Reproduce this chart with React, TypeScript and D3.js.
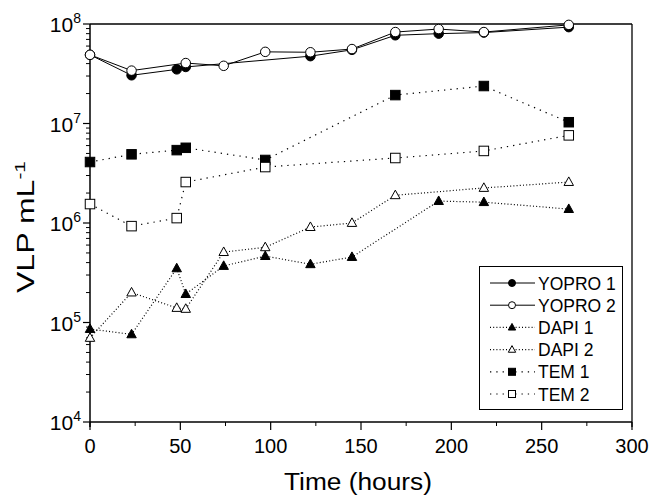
import { useEffect, useRef } from 'react';
import * as d3 from 'd3';

// [hours, VLP per mL]
const yopro1 = [[0, 4.9e7], [23, 3.05e7], [48, 3.5e7], [53, 3.7e7], [122, 4.75e7], [145, 5.5e7], [169, 7.7e7], [193, 8.0e7], [218, 8.2e7], [265, 9.3e7]];
const yopro2 = [[0, 4.9e7], [23, 3.4e7], [53, 4.05e7], [74, 3.8e7], [97, 5.25e7], [122, 5.2e7], [145, 5.6e7], [169, 8.3e7], [193, 8.9e7], [218, 8.3e7], [265, 9.8e7]];
const dapi1 = [[0, 8.6e4], [23, 7.6e4], [48, 3.5e5], [53, 1.93e5], [74, 3.7e5], [97, 4.65e5], [122, 3.85e5], [145, 4.55e5], [193, 1.66e6], [218, 1.62e6], [265, 1.38e6]];
const dapi2 = [[0, 7.0e4], [23, 2.0e5], [48, 1.4e5], [53, 1.37e5], [74, 5.1e5], [97, 5.7e5], [122, 9.1e5], [145, 1.0e6], [169, 1.9e6], [218, 2.25e6], [265, 2.58e6]];
const tem1 = [[0, 4.1e6], [23, 4.9e6], [48, 5.4e6], [53, 5.7e6], [97, 4.3e6], [169, 1.93e7], [218, 2.38e7], [265, 1.03e7]];
const tem2 = [[0, 1.55e6], [23, 9.3e5], [48, 1.12e6], [53, 2.58e6], [97, 3.65e6], [169, 4.5e6], [218, 5.3e6], [265, 7.6e6]];

const xTicks = [0, 50, 100, 150, 200, 250, 300];
const yExponents = [4, 5, 6, 7, 8];

const series = [
  { name: 'YOPRO 1', data: yopro1, shape: 'circle', filled: true, dash: null },
  { name: 'YOPRO 2', data: yopro2, shape: 'circle', filled: false, dash: null },
  { name: 'DAPI 1', data: dapi1, shape: 'triangle', filled: true, dash: '1,2.2' },
  { name: 'DAPI 2', data: dapi2, shape: 'triangle', filled: false, dash: '1,2.2' },
  { name: 'TEM 1', data: tem1, shape: 'square', filled: true, dash: '1.3,5' },
  { name: 'TEM 2', data: tem2, shape: 'square', filled: false, dash: '1.3,5' },
];

const FONT = '"Liberation Sans", Arial, Helvetica, sans-serif';

function drawMarker(g, shape, filled, cx, cy, size) {
  const fill = filled ? '#000' : '#fff';
  if (shape === 'circle') {
    g.append('circle').attr('cx', cx).attr('cy', cy).attr('r', size / 2)
      .attr('fill', fill).attr('stroke', '#000').attr('stroke-width', 1);
  } else if (shape === 'square') {
    g.append('rect').attr('x', cx - size / 2).attr('y', cy - size / 2)
      .attr('width', size).attr('height', size)
      .attr('fill', fill).attr('stroke', '#000').attr('stroke-width', 1);
  } else {
    const h = size * 0.95;
    const w = size * 1.05;
    const pts = [[cx, cy - h * 0.6], [cx + w / 2, cy + h * 0.4], [cx - w / 2, cy + h * 0.4]];
    g.append('polygon').attr('points', pts.map(p => p.join(',')).join(' '))
      .attr('fill', fill).attr('stroke', '#000').attr('stroke-width', 1);
  }
}

export default function App() {
  const svgRef = useRef(null);

  useEffect(() => {
    document.body.style.margin = '0';
    const svg = d3.select(svgRef.current);
    svg.selectAll('*').remove();

    const x = d3.scaleLinear().domain([0, 300]).range([90, 632]);
    const y = d3.scaleLog().domain([1e4, 1e8]).range([422, 24]);

    const g = svg.append('g');

    // Frame
    g.append('line').attr('x1', 90).attr('x2', 632).attr('y1', 24).attr('y2', 24)
      .attr('stroke', '#000').attr('stroke-width', 1.3);
    g.append('line').attr('x1', 632).attr('x2', 632).attr('y1', 24).attr('y2', 427)
      .attr('stroke', '#000').attr('stroke-width', 1.3);
    g.append('line').attr('x1', 90).attr('x2', 632).attr('y1', 422).attr('y2', 422)
      .attr('stroke', '#000').attr('stroke-width', 1.5);
    g.append('line').attr('x1', 90).attr('x2', 90).attr('y1', 24).attr('y2', 427)
      .attr('stroke', '#000').attr('stroke-width', 1.5);

    // X ticks (outward)
    const xMinor = d3.range(25, 300, 50);
    xMinor.forEach(t => {
      g.append('line').attr('x1', x(t)).attr('x2', x(t)).attr('y1', 422).attr('y2', 426)
        .attr('stroke', '#000');
    });
    xTicks.forEach(t => {
      g.append('line').attr('x1', x(t)).attr('x2', x(t)).attr('y1', 422).attr('y2', 430)
        .attr('stroke', '#000').attr('stroke-width', 1.2);
      g.append('text').attr('x', x(t)).attr('y', 453).attr('text-anchor', 'middle')
        .attr('font-family', FONT).attr('font-size', 20).text(t);
    });

    // Y ticks (outward), log decades
    yExponents.forEach(e => {
      const v = Math.pow(10, e);
      g.append('line').attr('x1', 83).attr('x2', 90).attr('y1', y(v)).attr('y2', y(v))
        .attr('stroke', '#000').attr('stroke-width', 1.2);
      const t = g.append('text').attr('x', 81).attr('y', y(v) + 8).attr('text-anchor', 'end')
        .attr('font-family', FONT).attr('font-size', 21);
      t.append('tspan').text('10');
      t.append('tspan').attr('dy', -9).attr('font-size', 14).text(e);
      if (e < 8) {
        for (let k = 2; k <= 9; k++) {
          const mv = k * v;
          g.append('line').attr('x1', 86).attr('x2', 90).attr('y1', y(mv)).attr('y2', y(mv))
            .attr('stroke', '#000');
        }
      }
    });

    // Axis titles
    g.append('text').attr('x', 358).attr('y', 490).attr('text-anchor', 'middle')
      .attr('font-family', FONT).attr('font-size', 23)
      .attr('textLength', 148).attr('lengthAdjust', 'spacingAndGlyphs')
      .text('Time (hours)');
    const yl = g.append('text').attr('transform', 'translate(34,227) rotate(-90)')
      .attr('text-anchor', 'middle').attr('font-family', FONT).attr('font-size', 23)
      .attr('textLength', 132).attr('lengthAdjust', 'spacingAndGlyphs');
    yl.append('tspan').text('VLP mL');
    yl.append('tspan').attr('dy', -9).attr('font-size', 15).text('-1');

    // Series lines
    const line = d3.line().x(d => x(d[0])).y(d => y(d[1]));
    series.forEach(s => {
      g.append('path').attr('d', line(s.data)).attr('fill', 'none')
        .attr('stroke', '#000').attr('stroke-width', s.dash ? 1.2 : 1)
        .attr('stroke-dasharray', s.dash);
    });
    series.forEach(s => {
      const mg = g.append('g');
      s.data.forEach(d => drawMarker(mg, s.shape, s.filled, x(d[0]), y(d[1]), s.shape === 'triangle' ? 9 : 9.5));
    });

    // Legend
    const lg = g.append('g');
    lg.append('rect').attr('x', 479.5).attr('y', 266.5).attr('width', 143).attr('height', 143)
      .attr('fill', '#fff').attr('stroke', '#000').attr('stroke-width', 1);
    series.forEach((s, i) => {
      const ly = 283 + i * 22.2;
      lg.append('line').attr('x1', 490).attr('x2', 535).attr('y1', ly).attr('y2', ly)
        .attr('stroke', '#000').attr('stroke-width', s.dash ? 1.2 : 1)
        .attr('stroke-dasharray', s.dash);
      drawMarker(lg, s.shape, s.filled, 512, ly, 7);
      lg.append('text').attr('x', 538).attr('y', ly + 6.5).attr('font-family', FONT)
        .attr('font-size', 17.5).text(s.name);
    });
  }, []);

  return (
    <div>
      <svg ref={svgRef} width={650} height={496} style={{ display: 'block', background: '#fff' }} />
    </div>
  );
}
